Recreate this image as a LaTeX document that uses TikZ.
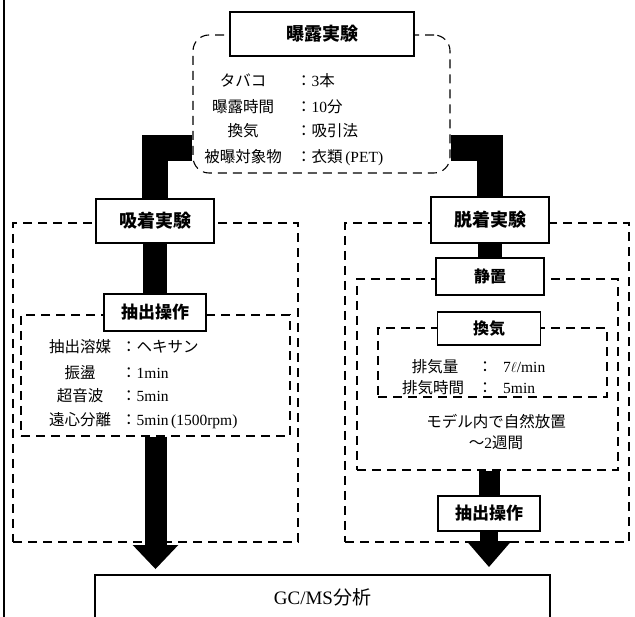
\documentclass[tikz,border=0pt]{standalone}
\usepackage{fontspec}
\setmainfont{Liberation Serif}
\newfontfamily\jp{Noto Sans CJK JP}
\usetikzlibrary{arrows.meta,calc}
\tikzset{
  titlebox/.style={draw, line width=1.3pt, fill=white, inner sep=0pt,
    font=\jp\bfseries\fontsize{18}{18}\selectfont, text height=13pt, text depth=0pt},
  subbox/.style={titlebox, font=\jp\bfseries\fontsize{16}{16}\selectfont, text height=11.5pt},
  frame/.style={draw, dash pattern=on 9pt off 6pt, line width=1.1pt, inner sep=0pt},
  txt/.style={inner sep=0pt, font=\fontsize{15.5}{15.5}\selectfont, text height=11pt, text depth=0pt},
  bar/.style={line width=24pt, draw=black},
  bigarrow/.style={line width=22pt, -{Triangle[width=44pt,length=24pt]}},
}
\begin{document}
\begin{tikzpicture}[x=1pt,y=-1pt]
\useasboundingbox[fill=white] (0,0) rectangle (635,617);
% left scan border
\draw[line width=2pt] (4,0) -- (4,617);

% ---- exposure block ----
\node[frame, rounded corners=16pt, minimum width=257pt, minimum height=138pt] (exfrm) at (321.5,104) {};
\node[titlebox, minimum width=184pt, minimum height=44pt] (exT) at (322,34) {曝露実験};
\node[txt] (l1) at (243,81) {\jp タバコ};
\node[txt, anchor=west] (v1) at (296,81) {{\jp ：}3{\jp 本}};
\node[txt] (l2) at (243,107) {\jp 曝露時間};
\node[txt, anchor=west] (v2) at (296,107) {{\jp ：}10{\jp 分}};
\node[txt] (l3) at (243,131) {\jp 換気};
\node[txt, anchor=west] (v3) at (296,131) {\jp ：吸引法};
\node[txt] (l4) at (243,157) {\jp 被曝対象物};
\node[txt, anchor=west] (v4) at (296,157) {{\jp ：衣類}\,(PET)};

% ---- adsorption block ----
\node[frame, minimum width=285pt, minimum height=319pt] (adfrm) at (155.5,382.5) {};
\node[frame, minimum width=269pt, minimum height=121pt] (exfrm2) at (155.5,375.5) {};
\node[titlebox, minimum width=118pt, minimum height=44pt] (adT) at (155,221) {吸着実験};
\node[subbox, font=\jp\bfseries\fontsize{17}{17}\selectfont, minimum width=102pt, minimum height=37pt] (exL) at (155,312.5) {抽出操作};
\node[txt] (a1) at (80,347) {\jp 抽出溶媒};
\node[txt, anchor=west] (b1) at (121,347) {\jp ：ヘキサン};
\node[txt] (a2) at (80,373) {\jp 振盪};
\node[txt, anchor=west] (b2) at (121,373) {{\jp ：}1min};
\node[txt] (a3) at (80,396) {\jp 超音波};
\node[txt, anchor=west] (b3) at (121,396) {{\jp ：}5min};
\node[txt] (a4) at (80,420) {\jp 遠心分離};
\node[txt, anchor=west] (b4) at (121,420) {{\jp ：}5min\,(1500rpm)};

% ---- desorption block ----
\node[frame, minimum width=284pt, minimum height=319pt] (defrm) at (487,382.5) {};
\node[frame, line width=1.8pt, minimum width=261pt, minimum height=191pt] (stfrm) at (487.5,374.5) {};
\node[frame, minimum width=229pt, minimum height=69pt] (vfrm) at (492.5,362.5) {};
\node[titlebox, minimum width=118pt, minimum height=46pt] (deT) at (490,220) {脱着実験};
\node[subbox, line width=2pt, minimum width=108pt, minimum height=37pt] (stT) at (490,276.5) {静置};
\node[subbox, minimum width=103pt, minimum height=33pt] (vT) at (489,328.5) {換気};
\node[txt] (c1) at (435,367) {\jp 排気量};
\node[txt] (d1) at (485,367) {\jp ：};
\node[txt, anchor=west] (e1) at (503,367) {7$\ell$/min};
\node[txt] (c2) at (433,388) {\jp 排気時間};
\node[txt] (d2) at (485,388) {\jp ：};
\node[txt, anchor=west] (e2) at (503,388) {5min};
\node[txt] (m1) at (496,422) {\jp モデル内で自然放置};
\node[txt] (m2) at (496,443) {{\jp ～}2{\jp 週間}};
\node[subbox, font=\jp\bfseries\fontsize{17}{17}\selectfont, minimum width=102pt, minimum height=35pt] (exR) at (489,513.5) {抽出操作};

% ---- analysis ----
\node[draw, line width=1.8pt, fill=white, inner sep=0pt, minimum width=455pt, minimum height=46pt,
  font=\fontsize{19}{19}\selectfont, text height=13pt, text depth=0pt] (gc) at (322.5,598) {GC/MS{\jp 分析}};

% ---- black connectors ----
\draw[bar, line width=26pt] ([yshift=-44pt]exfrm.west) -| (adT.north);
\draw[bar, line width=26pt] ([yshift=-44pt]exfrm.east) -| (deT.north);
\draw[bar] (adT.south) -- (exL.north);
\draw[bar] (deT.south) -- (stT.north);
\draw[bar, line width=21pt] (stfrm.south -| exR.north) -- (exR.north);
\draw[bigarrow, shorten >=5pt] (exfrm2.south) -- (exfrm2.south |- gc.north);
\draw[bigarrow, line width=18pt, -{Triangle[width=43pt,length=26pt]}, shorten >=7pt] (exR.south) -- (exR.south |- gc.north);
\end{tikzpicture}
\end{document}
